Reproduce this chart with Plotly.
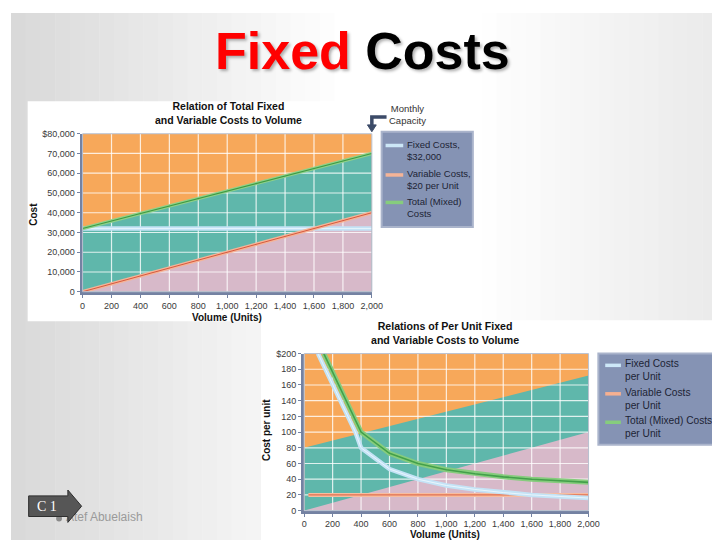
import plotly.graph_objects as go

W, H = 720, 540


def px(x):
    return x / W


def py(y):
    return 1 - y / H


# ---------------- data: top chart (total costs) ----------------
volume = [0, 2000]
fixed_total = [32000, 32000]
variable_total = [0, 40000]
mixed_total = [32000, 70000]
top_xticks = [0, 200, 400, 600, 800, 1000, 1200, 1400, 1600, 1800, 2000]
top_xtick_labels = ["0", "200", "400", "600", "800", "1,000", "1,200", "1,400", "1,600", "1,800", "2,000"]
top_yticks = [0, 10000, 20000, 30000, 40000, 50000, 60000, 70000, 80000]
top_ytick_labels = ["0", "10,000", "20,000", "30,000", "40,000", "50,000", "60,000", "70,000", "$80,000"]

# ---------------- data: bottom chart (per unit costs) ----------------
fixed_pu_volume = [97, 360, 400, 600, 800, 1000, 1200, 1400, 1600, 1800, 2000]
fixed_per_unit = [200, 100, 80, 53, 40, 32, 27, 23, 20, 18, 16]
mixed_pu_volume = [138, 400, 600, 800, 1000, 1200, 1400, 1600, 1800, 2000]
mixed_per_unit = [200, 100, 73, 60, 52, 47, 43, 40, 38, 36]
variable_pu_volume = [30, 2000]
variable_per_unit = [20, 20]
band_volume = [0, 2000]
band_low = [0, 100]
band_high = [80, 172]
bot_xticks = top_xticks
bot_xtick_labels = top_xtick_labels
bot_yticks = [0, 20, 40, 60, 80, 100, 120, 140, 160, 180, 200]
bot_ytick_labels = ["0", "20", "40", "60", "80", "100", "120", "140", "160", "180", "$200"]

ORANGE = "#f7a85a"
TEAL = "#5fb7ab"
PINK = "#d7b9c9"
FONT = "Liberation Sans, Arial, sans-serif"

fig = go.Figure()


def area(x, y, color, xa, ya):
    fig.add_trace(go.Scatter(x=x, y=y, mode="lines", fill="tozeroy", fillcolor=color,
                             line=dict(width=0, color=color), xaxis=xa, yaxis=ya,
                             showlegend=False, hoverinfo="skip"))


def grid(xticks, yticks, xa, ya):
    gx, gy = [], []
    for v in xticks[1:-1]:
        gx += [v, v, None]
        gy += [yticks[0], yticks[-1], None]
    for v in yticks[1:-1]:
        gx += [xticks[0], xticks[-1], None]
        gy += [v, v, None]
    fig.add_trace(go.Scatter(x=gx, y=gy, mode="lines",
                             line=dict(color="rgba(255,255,255,0.8)", width=1.2),
                             xaxis=xa, yaxis=ya, showlegend=False, hoverinfo="skip"))


def line(x, y, light, dark, wl, wd, xa, ya, name):
    fig.add_trace(go.Scatter(x=x, y=y, mode="lines", line=dict(color=light, width=wl),
                             xaxis=xa, yaxis=ya, showlegend=False, name=name))
    fig.add_trace(go.Scatter(x=x, y=y, mode="lines", line=dict(color=dark, width=wd),
                             xaxis=xa, yaxis=ya, showlegend=False, name=name, hoverinfo="skip"))


# top chart
area(volume, [top_yticks[-1]] * 2, ORANGE, "x", "y")
area(volume, mixed_total, TEAL, "x", "y")
area(volume, variable_total, PINK, "x", "y")
grid(top_xticks, top_yticks, "x", "y")
line(volume, fixed_total, "#c4e3f6", "#e6f4fc", 4.5, 1, "x", "y", "Fixed Costs")
line(volume, variable_total, "#f5b497", "#d6583e", 3.5, 1, "x", "y", "Variable Costs")
line(volume, mixed_total, "#8fd289", "#3e9a45", 3.5, 1.2, "x", "y", "Total (Mixed) Costs")

# bottom chart
area(band_volume, [bot_yticks[-1]] * 2, ORANGE, "x2", "y2")
area(band_volume, band_high, TEAL, "x2", "y2")
area(band_volume, band_low, PINK, "x2", "y2")
grid(bot_xticks, bot_yticks, "x2", "y2")
line(variable_pu_volume, variable_per_unit, "#f7bd9f", "#e2714f", 4, 1.2, "x2", "y2", "Variable Costs per Unit")
line(fixed_pu_volume, fixed_per_unit, "#c4e3f6", "#e8f5fc", 4.5, 1, "x2", "y2", "Fixed Costs per Unit")
line(mixed_pu_volume, mixed_per_unit, "#86cc7d", "#43a04a", 5, 1.6, "x2", "y2", "Total (Mixed) Costs per Unit")

# overlay text (slide footer) on a hidden full-page axis
fig.add_trace(go.Scatter(x=[56], y=[515], mode="text", text=["Atef Abuelaish"],
                         textposition="middle right",
                         textfont=dict(family=FONT, size=12, color="#9a9a9a"),
                         xaxis="x3", yaxis="y3", showlegend=False, hoverinfo="skip"))

axis_common = dict(showgrid=False, zeroline=False, showline=True, linecolor="#7482a2", linewidth=3,
                   ticks="outside", ticklen=3, tickcolor="#7482a2", tickwidth=1,
                   tickfont=dict(family=FONT, size=9, color="#3a3a3a"))

fig.update_layout(
    width=W, height=H, margin=dict(l=0, r=0, t=0, b=0),
    paper_bgcolor="#ffffff", plot_bgcolor="rgba(0,0,0,0)",
    xaxis=dict(domain=[px(73), px(368)], range=[0, 2000], tickvals=top_xticks,
               ticktext=top_xtick_labels, anchor="y", **axis_common),
    yaxis=dict(domain=[py(284), py(123)], range=[0, 80000], tickvals=top_yticks,
               ticktext=top_ytick_labels, anchor="x", **axis_common),
    xaxis2=dict(domain=[px(299), px(589)], range=[0, 2000], tickvals=bot_xticks,
                ticktext=bot_xtick_labels, anchor="y2", **axis_common),
    yaxis2=dict(domain=[py(507), py(347)], range=[0, 200], tickvals=bot_yticks,
                ticktext=bot_ytick_labels, anchor="x2", **axis_common),
    xaxis3=dict(domain=[0, 1], range=[0, W], visible=False, anchor="y3"),
    yaxis3=dict(domain=[0, 1], range=[H, 0], visible=False, anchor="x3"),
    showlegend=False,
)

shapes = []
# slide background gradient
n = 48
for i in range(n):
    x0 = i * W / n
    xm = x0 + W / (2 * n)
    if xm < 340:
        c = 216 + (255 - 216) * (xm / 340)
    elif xm < 470:
        c = 255
    else:
        c = 255 - (255 - 234) * ((xm - 470) / 250)
    c = int(round(c))
    shapes.append(dict(type="rect", xref="paper", yref="paper", x0=px(x0), x1=px(x0 + W / n + 0.5),
                       y0=0, y1=1, fillcolor=f"rgb({c},{c},{c})", line=dict(width=0), layer="below"))
# white chart panels
shapes.append(dict(type="rect", xref="paper", yref="paper", x0=px(17), x1=px(376), y0=py(314), y1=py(90),
                   fillcolor="#ffffff", line=dict(width=0), layer="below"))
shapes.append(dict(type="rect", xref="paper", yref="paper", x0=px(255), x1=px(718), y0=py(540), y1=py(313),
                   fillcolor="#ffffff", line=dict(width=0), layer="below"))
# plot frames (top/right thin)
for xa, ya in (("x", "y"), ("x2", "y2")):
    shapes.append(dict(type="rect", xref=f"{xa} domain", yref=f"{ya} domain", x0=0, x1=1, y0=0, y1=1,
                       line=dict(color="#b8c0d0", width=1), layer="above"))
# legend boxes
shapes.append(dict(type="rect", xref="paper", yref="paper", x0=px(378), x1=px(471), y0=py(218), y1=py(121),
                   fillcolor="#8593b4", line=dict(color="#aab4cb", width=2), layer="above"))
shapes.append(dict(type="rect", xref="paper", yref="paper", x0=px(599), x1=px(717), y0=py(440), y1=py(347),
                   fillcolor="#8593b4", line=dict(color="#aab4cb", width=2), layer="above"))
# legend swatches
top_legend = [("Fixed Costs,<br>$32,000", "#cce7f7", 135, 140),
              ("Variable Costs,<br>$20 per Unit", "#f5b497", 165, 170),
              ("Total (Mixed)<br>Costs", "#86cc7d", 193, 198)]
bot_legend = [("Fixed Costs<br>per Unit", "#cde8f8", 359, 363.5),
              ("Variable Costs<br>per Unit", "#f7b090", 388, 393),
              ("Total (Mixed) Costs<br>per Unit", "#86cc7d", 417, 421.5)]
for _, col, ys, _ in top_legend:
    shapes.append(dict(type="line", xref="paper", yref="paper", x0=px(382), x1=px(400), y0=py(ys), y1=py(ys),
                       line=dict(color=col, width=3.5), layer="above"))
for _, col, ys, _ in bot_legend:
    shapes.append(dict(type="line", xref="paper", yref="paper", x0=px(606), x1=px(622), y0=py(ys), y1=py(ys),
                       line=dict(color=col, width=3.5), layer="above"))
# monthly capacity arrow
shapes.append(dict(type="path", xref="paper", yref="paper",
                   path=f"M {px(383)} {py(106)} L {px(368)} {py(106)} L {px(368)} {py(115)}",
                   line=dict(color="#3c4b68", width=3.5), layer="above"))
shapes.append(dict(type="path", xref="paper", yref="paper",
                   path=f"M {px(363.5)} {py(114)} L {px(372.5)} {py(114)} L {px(368)} {py(121)} Z",
                   fillcolor="#3c4b68", line=dict(color="#3c4b68", width=1), layer="above"))
# C 1 badge
shapes.append(dict(type="circle", xref="paper", yref="paper", x0=px(46), x1=px(52), y0=py(518), y1=py(512),
                   fillcolor="#8a8a8a", line=dict(width=0), layer="above"))
badge = [(18, 492), (58, 492), (58, 486), (72, 502.5), (58, 519), (58, 513), (18, 513)]
bpath = "M " + " L ".join(f"{px(a)} {py(b)}" for a, b in badge) + " Z"
shapes.append(dict(type="path", xref="paper", yref="paper", path=bpath, fillcolor="#565656",
                   line=dict(color="#2e2e2e", width=1), layer="above"))

annotations = []


def ann(text, x, y, size, color="#111111", bold=False, xanchor="center", yanchor="middle", align="center",
        angle=0, family=FONT, shadow=None):
    f = dict(family=family, size=size, color=color, weight="bold" if bold else "normal")
    if shadow:
        f["shadow"] = shadow
    annotations.append(dict(text=text, x=px(x), y=py(y), xref="paper", yref="paper", showarrow=False,
                            xanchor=xanchor, yanchor=yanchor, align=align, textangle=angle, font=f))


ann("<span style='color:#ff0000'>Fixed</span> Costs", 358, 39, 52, color="#000000", bold=True,
    shadow="2px 2px 3px rgba(0,0,0,0.3)")
ann("Relation of Total Fixed<br>and Variable Costs to Volume", 222, 102, 10.5, bold=True)
ann("Relations of Per Unit Fixed<br>and Variable Costs to Volume", 443, 326, 10.6, bold=True)
ann("Cost", 23, 205, 10, bold=True, angle=-90)
ann("Volume (Units)", 220, 310, 10, bold=True)
ann("Cost per unit", 260, 425, 10, bold=True, angle=-90)
ann("Volume (Units)", 443, 531, 10, bold=True)
ann("Monthly<br>Capacity", 404, 103, 9.5, color="#333333")
for text, _, _, yc in top_legend:
    ann(text, 402, yc, 9.5, color="#1d2434", xanchor="left", align="left")
for text, _, _, yc in bot_legend:
    ann(text, 624, yc, 10.2, color="#1d2434", xanchor="left", align="left")
ann("C 1", 37, 502.5, 14, color="#ffffff", family="Liberation Serif, Times New Roman, serif")

fig.update_layout(shapes=shapes, annotations=annotations)
fig.write_html("out.html")
